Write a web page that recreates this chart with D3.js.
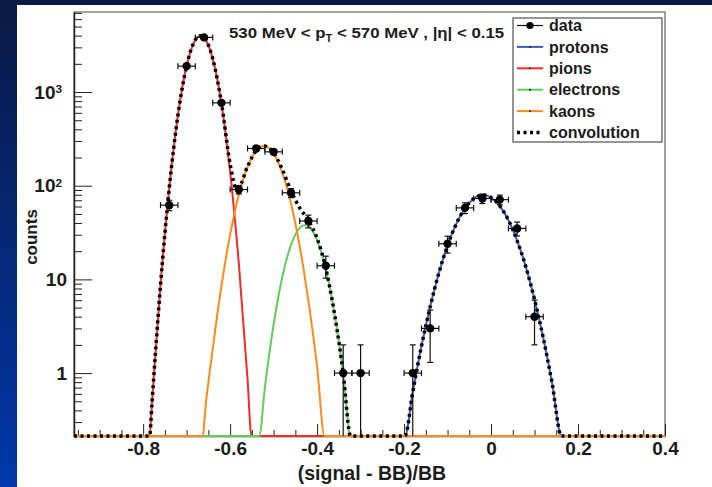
<!DOCTYPE html>
<html><head><meta charset="utf-8">
<script src="https://cdn.jsdelivr.net/npm/d3@7"></script>
<style>
body{margin:0;background:#fff}
svg{display:block}
text{font-family:"Liberation Sans",Arial,Helvetica,sans-serif;font-weight:bold;fill:#1c1c1c}
</style>
</head><body>
<svg id="c" width="712" height="487"></svg>
<script>
// ---- data ----
const dataX   = [-0.74,-0.70,-0.66,-0.62,-0.58,-0.54,-0.50,-0.46,-0.42,-0.38,-0.34,-0.30,-0.18,-0.14,-0.10,-0.06,-0.02,0.02,0.06,0.10];
const dataY   = [62,1890,3830,767,91,250,230,84,42,14,1,1,1,3,24,58,73,71,35,4];
const dataErr = [7.9,43.5,61.9,27.7,9.5,15.8,15.2,9.2,6.5,3.7,1,1,1,1.7,4.9,7.6,8.5,8.4,5.9,2];
const binHalf = 0.02;

const protons = [[-0.959,0],[-0.205,0],[-0.198,0.21],[-0.18,0.63],[-0.16,1.94],[-0.14,5.1],[-0.12,11.7],[-0.10,23],[-0.08,39.1],[-0.06,57.4],[-0.04,72.6],[-0.018,79.4],[0,74.8],[0.02,60.9],[0.04,42.8],[0.06,25.9],[0.08,13.6],[0.10,6.1],[0.12,2.38],[0.14,0.8],[0.162,0.21],[0.165,0],[0.4,0]];
const pions = [[-0.959,0],[-0.79,0],[-0.785,0.21],[-0.78,0.46],[-0.76,8.8],[-0.74,94],[-0.72,566],[-0.70,1905],[-0.68,3600],[-0.668,4000],[-0.66,3820],[-0.64,2270],[-0.62,757],[-0.60,141],[-0.58,14.8],[-0.56,0.87],[-0.551,0.21],[-0.545,0],[0.4,0]];
const electrons = [[-0.959,0],[-0.536,0],[-0.533,0.21],[-0.52,0.71],[-0.50,3.3],[-0.48,10.6],[-0.46,23.4],[-0.44,35.5],[-0.428,38],[-0.42,36.8],[-0.40,26.2],[-0.38,12.9],[-0.36,4.3],[-0.34,1.0],[-0.323,0.21],[-0.32,0],[0.4,0]];
const kaons = [[-0.959,0],[-0.665,0],[-0.662,0.21],[-0.66,0.285],[-0.64,1.8],[-0.62,8.5],[-0.60,30.2],[-0.58,80],[-0.56,159],[-0.54,237],[-0.5225,265],[-0.50,221],[-0.48,138],[-0.46,64.5],[-0.44,22.6],[-0.42,5.9],[-0.40,1.17],[-0.383,0.21],[-0.38,0],[0.4,0]];
const convolution = [[-0.959,0],[-0.79,0],[-0.785,0.21],[-0.78,0.46],[-0.76,8.8],[-0.74,94],[-0.72,566],[-0.70,1905],[-0.68,3600],[-0.668,4000],[-0.66,3820],[-0.64,2272],[-0.62,766],[-0.60,171],[-0.585,92],[-0.58,95],[-0.56,160],[-0.54,237],[-0.5225,265],[-0.50,224],[-0.48,149],[-0.46,88],[-0.44,58],[-0.42,42.7],[-0.40,27.4],[-0.38,13.1],[-0.36,4.3],[-0.34,1.0],[-0.323,0.21],[-0.32,0],[-0.205,0],[-0.198,0.21],[-0.18,0.63],[-0.16,1.94],[-0.14,5.1],[-0.12,11.7],[-0.10,23],[-0.08,39.1],[-0.06,57.4],[-0.04,72.6],[-0.018,79.4],[0,74.8],[0.02,60.9],[0.04,42.8],[0.06,25.9],[0.08,13.6],[0.10,6.1],[0.12,2.38],[0.14,0.8],[0.162,0.21],[0.165,0],[0.4,0]];

const xTicks = [-0.8,-0.6,-0.4,-0.2,0,0.2,0.4];
const xTickLabels = ["-0.8","-0.6","-0.4","-0.2","0","0.2","0.4"];
const xMinorTicks = [-0.95,-0.9,-0.85,-0.75,-0.7,-0.65,-0.55,-0.5,-0.45,-0.35,-0.3,-0.25,-0.15,-0.1,-0.05,0.05,0.1,0.15,0.25,0.3,0.35];
const yTicks = [1,10,100,1000];
const yTickBase = ["1","10","10","10"];
const yTickExp = ["","","2","3"];
const yMinorTicks = [0.3,0.4,0.5,0.6,0.7,0.8,0.9,2,3,4,5,6,7,8,9,20,30,40,50,60,70,80,90,200,300,400,500,600,700,800,900,2000,3000,4000,5000,6000,7000];

const legendLabels = ["data","protons","pions","electrons","kaons","convolution"];
const seriesColors = {protons:"#3d5cc6", pions:"#ee2b2b", electrons:"#62cc5e", kaons:"#ff8a1e"};

// ---- setup ----
const svg = d3.select("#c");
const defs = svg.append("defs");
const grad = defs.append("linearGradient").attr("id","bg").attr("x1",0).attr("y1",0).attr("x2",0).attr("y2",1);
grad.append("stop").attr("offset","0%").attr("stop-color","#0a1943");
grad.append("stop").attr("offset","100%").attr("stop-color","#0037a9");
svg.append("rect").attr("width",712).attr("height",487).attr("fill","url(#bg)");
svg.append("rect").attr("x",17).attr("y",5).attr("width",695).attr("height",482).attr("fill","#fff");
defs.append("clipPath").attr("id","clip").append("rect").attr("x",74).attr("y",11).attr("width",591).attr("height",427);

const x = d3.scaleLinear().domain([-0.959, 0.4]).range([74, 665]);
const y = d3.scaleLog().domain([0.213, 7150]).range([436, 12]);
const yMin = y.domain()[0];
const yc = v => y(Math.max(v, yMin));

// frame
svg.append("rect").attr("x",74).attr("y",12).attr("width",591).attr("height",424)
  .attr("fill","none").attr("stroke","#8a8a8a").attr("stroke-width",1.6);

// axes
function styleAxis(g, size){
  g.attr("font-family",null).attr("font-size",null).attr("color","#222");
  g.selectAll("text").attr("font-size",size);
}
const gx = svg.append("g").attr("transform","translate(0,436)")
  .call(d3.axisBottom(x).tickValues(xTicks).tickSize(-12).tickSizeOuter(0).tickPadding(6)
        .tickFormat((d,i)=>xTickLabels[i]));
styleAxis(gx,19);
gx.select(".domain").attr("stroke-width",1.5);
const gxm = svg.append("g").attr("transform","translate(0,436)")
  .call(d3.axisBottom(x).tickValues(xMinorTicks).tickSize(-6).tickSizeOuter(0).tickFormat(""));
gxm.attr("color","#222"); gxm.select(".domain").remove();

const gy = svg.append("g").attr("transform","translate(74,0)")
  .call(d3.axisLeft(y).tickValues(yTicks).tickSize(-18).tickSizeOuter(0).tickPadding(7).tickFormat(()=>""));
styleAxis(gy,19);
gy.select(".domain").attr("stroke-width",1.5);
gy.selectAll(".tick text").each(function(d,i){
  const t = d3.select(this);
  t.text(yTickBase[i]);
  if(yTickExp[i]){
    t.attr("x",-12);
    t.append("tspan").attr("dy","-0.48em").attr("font-size","0.62em").text(yTickExp[i]);
  }
});
const gym = svg.append("g").attr("transform","translate(74,0)")
  .call(d3.axisLeft(y).tickValues(yMinorTicks).tickSize(-8).tickSizeOuter(0).tickFormat(""));
gym.attr("color","#222"); gym.select(".domain").remove();

// titles
svg.append("text").attr("x",372).attr("y",480).attr("text-anchor","middle").attr("font-size",19.5).text("(signal - BB)/BB");
svg.append("text").attr("transform","translate(37,237) rotate(-90)").attr("text-anchor","middle").attr("font-size",17).text("counts");

// curves
const line = d3.line().x(d=>x(d[0])).y(d=>yc(d[1])).curve(d3.curveMonotoneX);
const plot = svg.append("g").attr("clip-path","url(#clip)");
[["protons",protons],["pions",pions],["electrons",electrons],["kaons",kaons]].forEach(([k,arr])=>{
  plot.append("path").attr("d",line(arr)).attr("fill","none").attr("stroke",seriesColors[k]).attr("stroke-width",2);
});
plot.append("path").attr("d",line(convolution)).attr("fill","none").attr("stroke","#000")
  .attr("stroke-width",3.5).attr("stroke-dasharray","3 3.5");

// data with error bars
const pts = dataX.map((v,i)=>({v, c:dataY[i], e:dataErr[i]}));
const dg = plot.append("g").attr("stroke","#111").attr("stroke-width",1.2);
pts.forEach(p=>{
  const cx = x(p.v), cy = y(p.c);
  const x0 = x(p.v-binHalf), x1 = x(p.v+binHalf);
  dg.append("line").attr("x1",x0).attr("x2",x1).attr("y1",cy).attr("y2",cy);
  dg.append("line").attr("x1",x0).attr("x2",x0).attr("y1",cy-3).attr("y2",cy+3);
  dg.append("line").attr("x1",x1).attr("x2",x1).attr("y1",cy-3).attr("y2",cy+3);
  const yt = y(p.c+p.e), yb = yc(p.c-p.e);
  dg.append("line").attr("x1",cx).attr("x2",cx).attr("y1",yt).attr("y2",yb);
  dg.append("line").attr("x1",cx-3).attr("x2",cx+3).attr("y1",yt).attr("y2",yt);
  if(p.c-p.e > yMin) dg.append("line").attr("x1",cx-3).attr("x2",cx+3).attr("y1",yb).attr("y2",yb);
  dg.append("circle").attr("cx",cx).attr("cy",cy).attr("r",4.2).attr("fill","#000").attr("stroke","none");
});

// header
const hdr = svg.append("text").attr("transform","translate(229,38) scale(1.12,1)").attr("font-size",15);
hdr.append("tspan").text("530 MeV < p");
hdr.append("tspan").attr("font-size",10).attr("dy",4).text("T");
hdr.append("tspan").attr("dy",-4).text(" < 570 MeV , |\u03B7| < 0.15");

// legend
const lg = svg.append("g");
lg.append("rect").attr("x",513).attr("y",18).attr("width",149).attr("height",124)
  .attr("fill","#fff").attr("stroke","#6a6a6a").attr("stroke-width",1.4);
legendLabels.forEach((lab,i)=>{
  const ly = 25.5 + i*21.4;
  if(lab==="data"){
    lg.append("line").attr("x1",517).attr("x2",543).attr("y1",ly).attr("y2",ly).attr("stroke","#111").attr("stroke-width",1.2);
    lg.append("circle").attr("cx",530).attr("cy",ly).attr("r",3.6).attr("fill","#000");
  } else if(lab==="convolution"){
    lg.append("line").attr("x1",517).attr("x2",543).attr("y1",ly).attr("y2",ly).attr("stroke","#000")
      .attr("stroke-width",3.5).attr("stroke-dasharray","3 3.5");
  } else {
    lg.append("line").attr("x1",517).attr("x2",543).attr("y1",ly).attr("y2",ly).attr("stroke",seriesColors[lab]).attr("stroke-width",2);
    lg.append("circle").attr("cx",530).attr("cy",ly).attr("r",1).attr("fill","#222");
  }
  lg.append("text").attr("x",549).attr("y",ly).attr("dy","0.35em").attr("font-size",16).text(lab);
});
</script>
</body></html>
